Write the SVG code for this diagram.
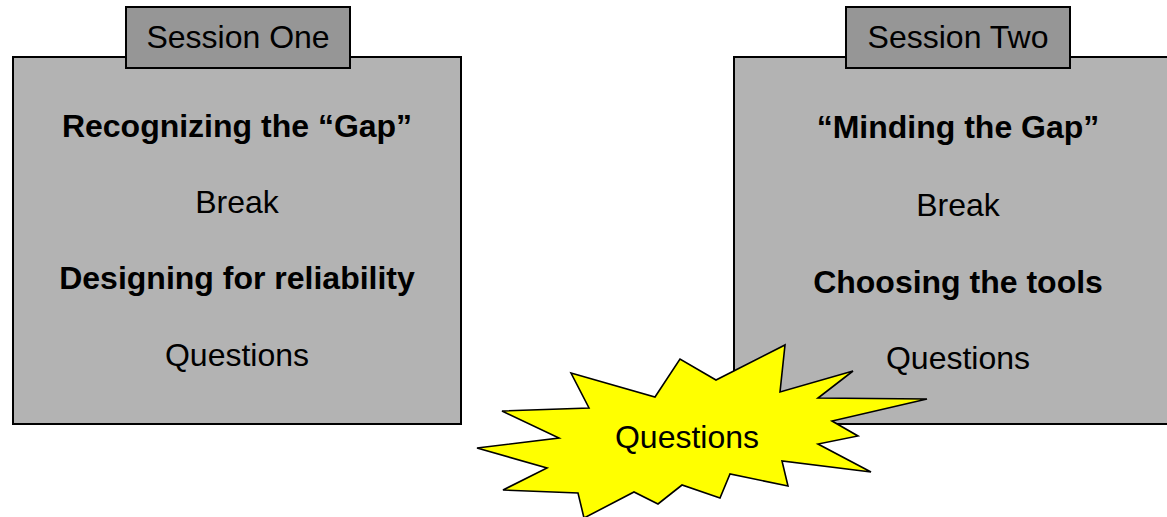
<svg xmlns="http://www.w3.org/2000/svg" width="1167" height="517" viewBox="0 0 1167 517">
<style>
.box{fill:#b3b3b3;stroke:#000;stroke-width:2}
.tab{fill:#969696;stroke:#000;stroke-width:2}
.burst{fill:#ffff00;stroke:#000;stroke-width:1.6;stroke-linejoin:miter}
text{font-family:"Liberation Sans",Arial,sans-serif;font-size:32px;fill:#000;text-anchor:middle}
.b{font-weight:bold}
</style>
<rect width="1167" height="517" fill="#fff"/>
<g id="session-one">
<rect class="box" x="13" y="57" width="448" height="367"/>
<rect class="tab" x="126" y="7" width="224" height="61"/>
<text x="238" y="48">Session One</text>
<text class="b" x="237" y="137">Recognizing the “Gap”</text>
<text x="237" y="213">Break</text>
<text class="b" x="237" y="289">Designing for reliability</text>
<text x="237" y="366">Questions</text>
</g>
<g id="session-two">
<rect class="box" x="734" y="57" width="448" height="367"/>
<rect class="tab" x="846" y="7" width="224" height="61"/>
<text x="958" y="48">Session Two</text>
<text class="b" x="958" y="138">“Minding the Gap”</text>
<text x="958" y="216">Break</text>
<text class="b" x="958" y="293">Choosing the tools</text>
<text x="958" y="369">Questions</text>
</g>
<g id="questions-burst">
<polygon class="burst" points="785,345 780,392 853,371 818,398 927,399 832,421 858,436 818,444 871,472 782,461 788,486 730,474 720,498 682,485 658,504 634,492 584,518 578,493 503,490 547,468 477,448 559,438 502,411 589,408 571,373 655,397 680,359 716,380"/>
<text x="687" y="448">Questions</text>
</g>
<g id="connectors"></g>
</svg>
